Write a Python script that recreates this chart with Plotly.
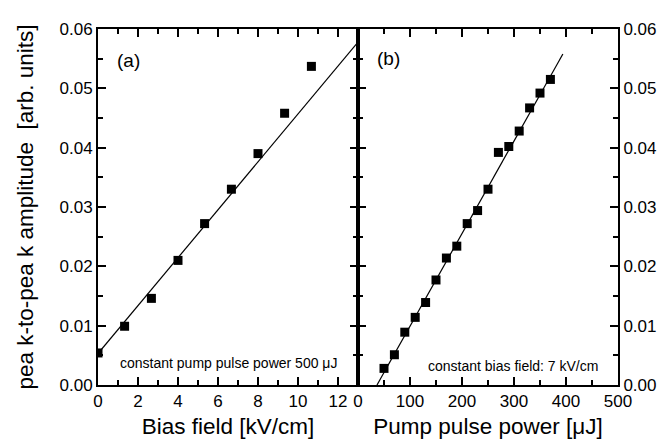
import plotly.graph_objects as go

# Panel (a): amplitude vs bias field
bias_field = [0.0, 1.33, 2.67, 4.0, 5.33, 6.67, 8.0, 9.33, 10.67]
amp_a = [0.0054, 0.0099, 0.0146, 0.0210, 0.0272, 0.0330, 0.0390, 0.0458, 0.0537]
fit_a_x = [0.0, 13.0]
fit_a_y = [0.0053, 0.0578]

# Panel (b): amplitude vs pump pulse power
pump_power = [50, 70, 90, 110, 130, 150, 170, 190, 210, 230, 250, 270, 290, 310, 330, 350, 370]
amp_b = [0.0028, 0.0051, 0.0089, 0.0114, 0.0139, 0.0177, 0.0214, 0.0234, 0.0272, 0.0294,
         0.0330, 0.0392, 0.0402, 0.0428, 0.0467, 0.0492, 0.0515]
fit_b_x = [36.5, 394.0]
fit_b_y = [0.0, 0.0558]

FONT = "Liberation Sans, Arial, sans-serif"

fig = go.Figure()
fig.add_trace(go.Scatter(x=fit_a_x, y=fit_a_y, mode="lines", line=dict(color="black", width=1.2),
                         xaxis="x", yaxis="y", showlegend=False))
fig.add_trace(go.Scatter(x=bias_field, y=amp_a, mode="markers",
                         marker=dict(symbol="square", size=9, color="black"),
                         xaxis="x", yaxis="y", showlegend=False))
fig.add_trace(go.Scatter(x=fit_b_x, y=fit_b_y, mode="lines", line=dict(color="black", width=1.2),
                         xaxis="x2", yaxis="y2", showlegend=False))
fig.add_trace(go.Scatter(x=pump_power, y=amp_b, mode="markers",
                         marker=dict(symbol="square", size=9, color="black"),
                         xaxis="x2", yaxis="y2", showlegend=False))

def ax(**kw):
    d = dict(showline=True, linecolor="black", linewidth=2, mirror="allticks",
             ticks="inside", ticklen=8, tickwidth=2, tickcolor="black",
             showgrid=False, zeroline=False,
             tickfont=dict(family=FONT, size=17, color="black"))
    d.update(kw)
    return d

def minor(d):
    return dict(ticks="inside", ticklen=5, tickwidth=2, tickcolor="black", dtick=d)

fig.update_layout(
    width=666, height=439,
    margin=dict(l=90, r=56, t=20, b=59),
    paper_bgcolor="white", plot_bgcolor="white",
    font=dict(family=FONT, color="black", size=17),
    xaxis=ax(domain=[0, 0.5], range=[0, 13], dtick=2, anchor="y", minor=minor(1),
             title=dict(text="Bias field [kV/cm]", font=dict(size=22.5), standoff=8)),
    xaxis2=ax(domain=[0.5, 1], range=[0, 500], dtick=100, anchor="y2", minor=minor(50),
              title=dict(text="Pump pulse power [μJ]", font=dict(size=22.5), standoff=8)),
    yaxis=ax(domain=[0, 1], range=[0, 0.06], dtick=0.01, tickformat=".2f", anchor="x", minor=minor(0.005),
             title=dict(text="pea k-to-pea k amplitude\u00a0\u00a0[arb. units]", font=dict(size=22.5),
                        standoff=20)),
    yaxis2=ax(domain=[0, 1], range=[0, 0.06], dtick=0.01, tickformat=".2f", side="right", anchor="x2",
              minor=minor(0.005)),
    annotations=[
        dict(text="(a)", x=0.85, y=0.0547, xref="x", yref="y", xanchor="left", yanchor="middle",
             showarrow=False, font=dict(size=19)),
        dict(text="(b)", x=32, y=0.055, xref="x2", yref="y2", xanchor="left", yanchor="middle",
             showarrow=False, font=dict(size=19)),
        dict(text="constant pump pulse power 500 μJ", x=1.0, y=0.0037, xref="x", yref="y",
             xanchor="left", yanchor="middle", showarrow=False, font=dict(size=14)),
        dict(text="constant bias field: 7 kV/cm", x=130, y=0.0032, xref="x2", yref="y2",
             xanchor="left", yanchor="middle", showarrow=False, font=dict(size=14)),
    ],
)

fig.write_html("out.html")
